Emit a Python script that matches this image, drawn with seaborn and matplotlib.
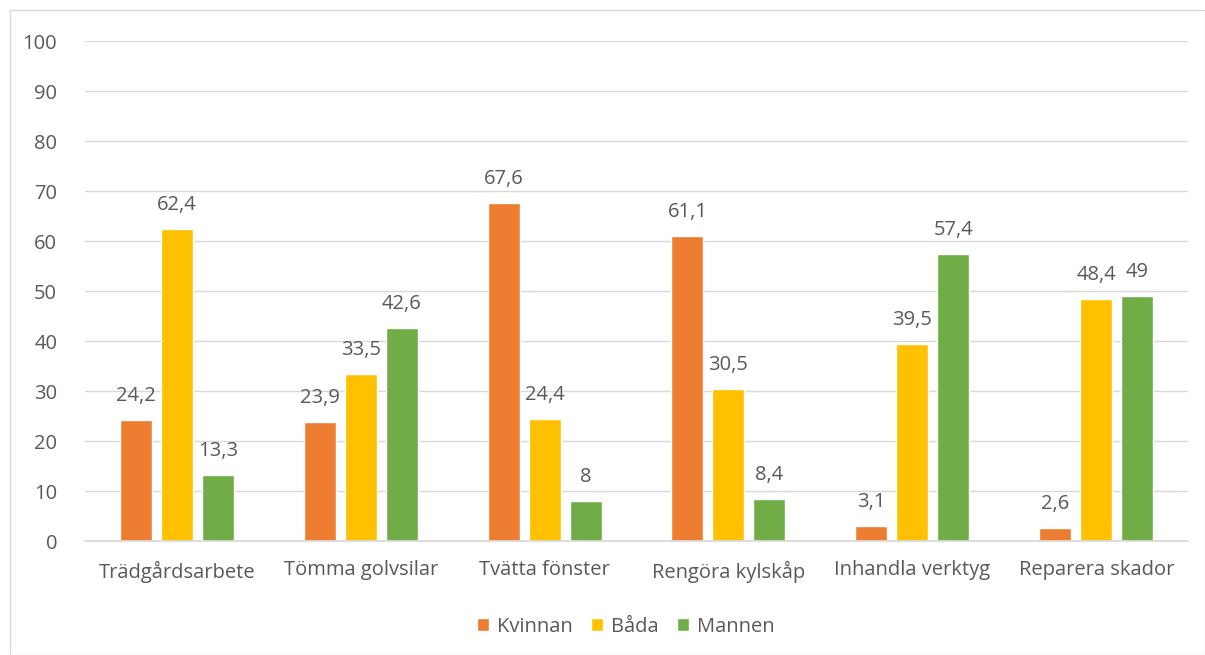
import pandas as pd
import seaborn as sns
import matplotlib.pyplot as plt
from matplotlib.patches import Rectangle

categories = ['Trädgårdsarbete', 'Tömma golvsilar', 'Tvätta fönster',
              'Rengöra kylskåp', 'Inhandla verktyg', 'Reparera skador']
kvinnan = [24.2, 23.9, 67.6, 61.1, 3.1, 2.6]
bada = [62.4, 33.5, 24.4, 30.5, 39.5, 48.4]
mannen = [13.3, 42.6, 8, 8.4, 57.4, 49]
series = ['Kvinnan', 'Båda', 'Mannen']
colors = ['#ED7D31', '#FFC000', '#70AD47']

df = pd.DataFrame({'kategori': categories * 3,
                   'grupp': [s for s in series for _ in categories],
                   'varde': kvinnan + bada + mannen})

sns.set_theme(style='white')
plt.rcParams['font.family'] = ['Open Sans', 'DejaVu Sans']
txt = '#595959'
fs = 14.5

fig = plt.figure(figsize=(12.05, 6.55), dpi=100)
ax = fig.add_axes([0.0705, 0.174, 0.9155, 0.763])
sns.barplot(data=df, x='kategori', y='varde', hue='grupp', palette=colors,
            width=0.669, gap=0.22, ax=ax, saturation=1, legend=True)

for cont in ax.containers:
    labels = [f'{v:g}'.replace('.', ',') for v in cont.datavalues]
    ax.bar_label(cont, labels=labels, padding=10, fontsize=fs, color=txt)

ax.set_ylim(0, 100)
ax.set_yticks(range(0, 101, 10))
ax.yaxis.grid(True, color='#D9D9D9', linewidth=1)
ax.set_axisbelow(True)
ax.set_xlabel('')
ax.set_ylabel('')
for s in ['top', 'right', 'left']:
    ax.spines[s].set_visible(False)
ax.spines['bottom'].set_color('#D9D9D9')
ax.tick_params(axis='both', length=0, labelsize=fs, colors=txt)
ax.tick_params(axis='x', pad=14)
ax.tick_params(axis='y', pad=20)

ax.legend(loc='upper center', bbox_to_anchor=(0.49, -0.115), ncol=3, frameon=False,
          fontsize=fs, labelcolor=txt, handlelength=0.6, handleheight=0.6,
          columnspacing=0.9, handletextpad=0.4)

fig.patches.append(Rectangle((10 / 1205, 0), 1 - 10 / 1205, 1 - 10 / 655,
                             transform=fig.transFigure, fill=False,
                             edgecolor='#D9D9D9', linewidth=1))

fig.savefig('out.png', dpi=100)
